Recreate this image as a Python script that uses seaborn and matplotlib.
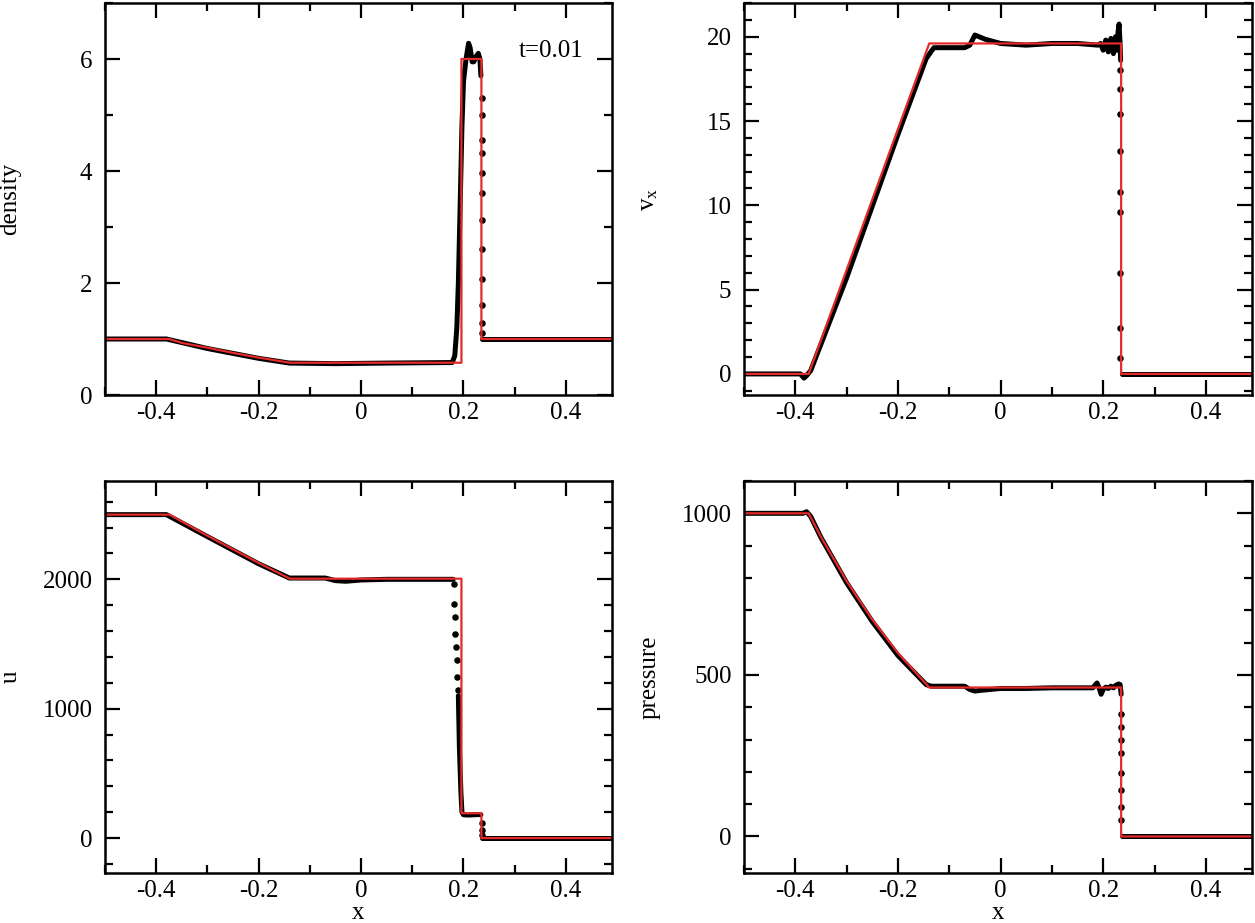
import numpy as np
import matplotlib
matplotlib.use("Agg")
import matplotlib.pyplot as plt
import seaborn as sns
from matplotlib.ticker import MultipleLocator

# ---- tick labels
x_ticks = [-0.4, -0.2, 0, 0.2, 0.4]
x_ticklabels = ["-0.4", "-0.2", "0", "0.2", "0.4"]

# ---- exact (red) solution, breakpoints
den_ex_x = [-0.5, -0.375, -0.35, -0.3, -0.25, -0.2, -0.139, 0.196, 0.196, 0.235, 0.235, 0.49]
den_ex = [1.0, 1.0, 0.93, 0.845, 0.752, 0.668, 0.576, 0.576, 6.0, 6.0, 1.0, 1.0]

vx_ex_x = [-0.5, -0.374, -0.139, 0.235, 0.235, 0.49]
vx_ex = [0.0, 0.0, 19.6, 19.6, 0.0, 0.0]

u_ex_x = [-0.5, -0.374, -0.3, -0.2, -0.139, 0.196, 0.196, 0.235, 0.235, 0.49]
u_ex = [2500, 2500, 2337, 2127, 2005, 2005, 192, 192, 0, 0]

p_ex_x = [-0.5, -0.374, -0.35, -0.3, -0.25, -0.2, -0.139, 0.235, 0.235, 0.49]
p_ex = [1000, 1000, 927, 790, 671, 568, 461, 461, 0.01, 0.01]

# ---- simulation particles (black)
den_sim_x = [-0.5, -0.38, -0.3, -0.2, -0.14, -0.05, 0.05, 0.178, 0.183, 0.187, 0.19,
             0.193, 0.197, 0.2, 0.205, 0.21, 0.213, 0.217, 0.22, 0.225, 0.229, 0.232, 0.234]
den_sim = [1.0, 1.0, 0.83, 0.655, 0.57, 0.56, 0.57, 0.58, 0.7, 1.2, 2.0,
           3.2, 4.8, 5.6, 6.0, 6.28, 6.2, 5.95, 5.95, 6.05, 6.1, 6.0, 5.7]
den_dot_x = [0.2355] * 12
den_dot = [5.3, 5.0, 4.55, 4.32, 3.96, 3.6, 3.12, 2.6, 2.07, 1.6, 1.29, 1.1]
den_right_x = [0.237, 0.49]
den_right = [1.0, 1.0]

vx_sim_x = [-0.5, -0.39, -0.383, -0.378, -0.37, -0.3, -0.2, -0.145, -0.13, -0.07, -0.06,
            -0.05, -0.03, 0.0, 0.05, 0.1, 0.15, 0.19, 0.195, 0.2, 0.205, 0.21, 0.215,
            0.22, 0.224, 0.227, 0.229, 0.231, 0.233, 0.234]
vx_sim = [0.0, 0.0, -0.25, -0.1, 0.2, 5.7, 14.2, 18.7, 19.35, 19.35, 19.5,
          20.1, 19.85, 19.6, 19.5, 19.6, 19.6, 19.5, 19.6, 19.2, 19.8, 19.1, 19.9,
          19.0, 20.0, 19.2, 20.3, 20.75, 19.5, 18.6]
vx_dot_x = [0.233] * 9
vx_dot = [18.0, 16.9, 15.4, 13.2, 10.8, 9.6, 6.0, 2.7, 0.95]
vx_right_x = [0.237, 0.49]
vx_right = [0.0, 0.0]

u_sim_x = [-0.5, -0.38, -0.3, -0.2, -0.14, -0.13, -0.07, -0.05, -0.03, 0.0, 0.05, 0.1, 0.15, 0.18]
u_sim = [2500, 2500, 2330, 2120, 2010, 2010, 2010, 1990, 1985, 1995, 2000, 2000, 2000, 2000]
u_dot_x = [0.181, 0.182, 0.1826, 0.184, 0.1855, 0.187, 0.188, 0.189]
u_dot = [1960, 1812, 1710, 1581, 1478, 1375, 1247, 1144]
u_mid_x = [0.19, 0.192, 0.195, 0.197, 0.2, 0.21, 0.22, 0.23, 0.234]
u_mid = [1100, 700, 350, 200, 180, 178, 180, 182, 180]
u_dot2_x = [0.2355, 0.236, 0.236]
u_dot2 = [120, 60, 20]
u_right_x = [0.237, 0.49]
u_right = [0, 0]

p_sim_x = [-0.5, -0.385, -0.378, -0.37, -0.35, -0.3, -0.25, -0.2, -0.145, -0.135, -0.07,
           -0.06, -0.05, -0.04, -0.02, 0.0, 0.05, 0.1, 0.15, 0.18, 0.185, 0.188, 0.192,
           0.196, 0.2, 0.205, 0.21, 0.215, 0.22, 0.225, 0.23, 0.233, 0.235]
p_sim = [1000, 1000, 1005, 990, 925, 785, 665, 560, 470, 465, 465,
         455, 450, 452, 455, 458, 458, 460, 460, 460, 470, 475, 460,
         440, 455, 462, 458, 465, 460, 468, 472, 470, 440]
p_dot_x = [0.235] * 8
p_dot = [380, 339, 298, 257, 195, 144, 92, 51]
p_right_x = [0.237, 0.49]
p_right = [0, 0]

sns.set_style("ticks")
plt.rcParams["font.family"] = ["Liberation Serif", "DejaVu Serif"]
plt.rcParams["mathtext.fontset"] = "custom"
plt.rcParams["mathtext.rm"] = "Liberation Serif"
plt.rcParams["mathtext.it"] = "Liberation Serif:italic"
plt.rcParams["axes.unicode_minus"] = False
for key in ["text.color", "axes.labelcolor", "xtick.color", "ytick.color", "axes.edgecolor"]:
    plt.rcParams[key] = "black"

RED = "#e52a2a"
fig = plt.figure(figsize=(12.55, 9.23), dpi=100)
W, H = 1255, 923


def make_ax(left, top, right, bottom):
    return fig.add_axes([left / W, 1 - bottom / H, (right - left) / W, (bottom - top) / H])


def draw(ax, lines, dots, ex_x, ex_y):
    for lx, ly in lines:
        sns.lineplot(x=lx, y=ly, ax=ax, color="black", lw=3.6, estimator=None, sort=False)
    for dx, dy in dots:
        sns.scatterplot(x=dx, y=dy, ax=ax, color="black", s=22, linewidth=0)
    sns.lineplot(x=ex_x, y=ex_y, ax=ax, color=RED, lw=1.6, estimator=None, sort=False)


def style(ax, ylim, ymaj, ymin, ylabel, xlabel=None):
    ax.set_xlim(-0.5, 0.49)
    ax.set_ylim(*ylim)
    ax.set_xticks(x_ticks)
    ax.set_xticklabels(x_ticklabels)
    ax.xaxis.set_minor_locator(MultipleLocator(0.1))
    ax.yaxis.set_major_locator(MultipleLocator(ymaj))
    ax.yaxis.set_minor_locator(MultipleLocator(ymin))
    ax.tick_params(which="both", direction="in", top=True, right=True, width=1.6,
                   labelsize=18, colors="black")
    ax.tick_params(which="major", length=11)
    ax.tick_params(which="minor", length=6)
    ax.tick_params(axis="y", pad=9)
    ax.tick_params(axis="x", pad=5)
    for s in ax.spines.values():
        s.set_linewidth(1.8)
        s.set_color("black")
    ax.set_ylabel(ylabel, fontsize=18, color="black")
    ax.yaxis.set_label_coords(-0.165, 0.5)
    if xlabel:
        ax.set_xlabel(xlabel, fontsize=18, labelpad=0, color="black")
    else:
        ax.set_xlabel("")


ax1 = make_ax(105, 3, 612, 395)
draw(ax1, [(den_sim_x, den_sim), (den_right_x, den_right)], [(den_dot_x, den_dot)], den_ex_x, den_ex)
style(ax1, (0, 7), 2, 1, "density")
ax1.text(0.307, 6.04, "t=0.01", fontsize=18, color="black")

ax2 = make_ax(744, 3, 1252, 395)
draw(ax2, [(vx_sim_x, vx_sim), (vx_right_x, vx_right)], [(vx_dot_x, vx_dot)], vx_ex_x, vx_ex)
style(ax2, (-1.25, 22), 5, 1, r"v$_\mathrm{x}$")

ax3 = make_ax(105, 481, 612, 873)
draw(ax3, [(u_sim_x, u_sim), (u_mid_x, u_mid), (u_right_x, u_right)],
     [(u_dot_x, u_dot), (u_dot2_x, u_dot2)], u_ex_x, u_ex)
style(ax3, (-270, 2760), 1000, 200, "u", "x")

ax4 = make_ax(744, 481, 1252, 873)
draw(ax4, [(p_sim_x, p_sim), (p_right_x, p_right)], [(p_dot_x, p_dot)], p_ex_x, p_ex)
style(ax4, (-113, 1100), 500, 100, "pressure", "x")

fig.savefig("out.png", dpi=100)
